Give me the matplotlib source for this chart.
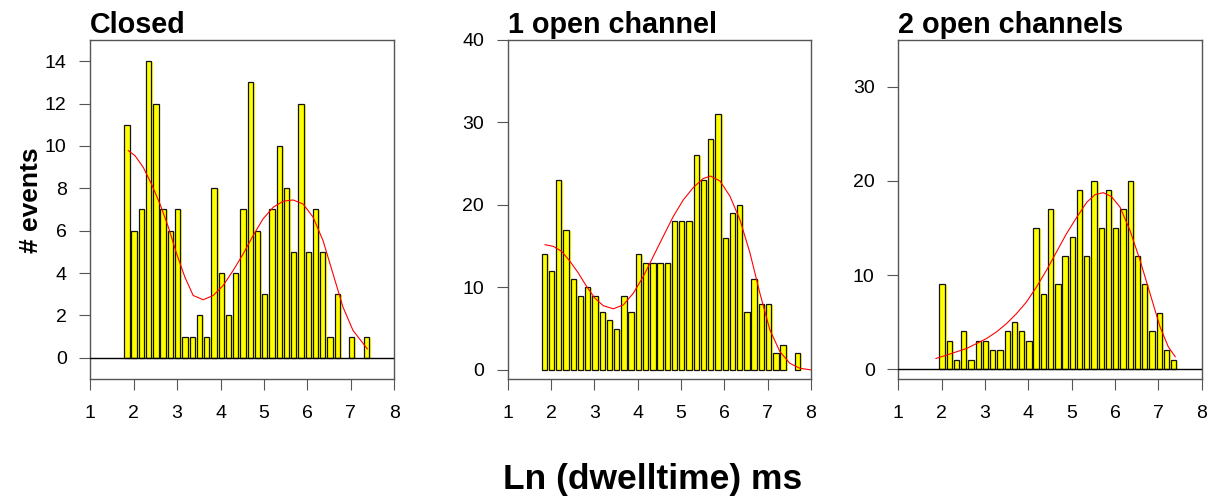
#!/usr/bin/env python3
# -*- coding: utf-8 -*-
"""
Dwell time histograms (ln ms) for closed, 1 open and 2 open channel states,
with the smoothed density overlaid in red.
"""

import matplotlib
matplotlib.use('Agg')
import matplotlib.pyplot as plt
from matplotlib.transforms import offset_copy

plt.rcParams['font.family'] = ['Liberation Sans', 'DejaVu Sans']

# histogram bins in ln(dwelltime)
bin_start = 1.782
bin_width = 0.167

closed_counts = [11, 6, 7, 14, 12, 7, 6, 7, 1, 1, 2, 1, 8, 4, 2, 4, 7, 13, 6, 3,
                 7, 10, 8, 5, 12, 5, 7, 5, 1, 3, 0, 1, 0, 1]
one_open_counts = [14, 12, 23, 17, 11, 9, 10, 9, 7, 6, 5, 9, 7, 14, 13, 13, 13, 13,
                   18, 18, 18, 26, 23, 28, 31, 16, 19, 20, 7, 11, 8, 8, 2, 3, 0, 2]
two_open_counts = [0, 9, 3, 1, 4, 1, 3, 3, 2, 2, 4, 5, 4, 3, 15, 8, 17, 9, 12, 14,
                   19, 12, 20, 15, 19, 15, 17, 20, 12, 9, 4, 6, 2, 1]

# smoothed density curves (scaled to counts)
closed_fit_x = [1.875, 2.03, 2.22, 2.41, 2.605, 2.80, 2.99, 3.18, 3.37, 3.60, 3.83, 4.06,
                4.29, 4.52, 4.75, 4.98, 5.21, 5.44, 5.67, 5.90, 6.13, 6.36, 6.59, 6.82,
                7.05, 7.38]
closed_fit_y = [9.78, 9.54, 8.99, 8.2, 7.26, 6.16, 4.9, 3.8, 2.94, 2.74, 2.94, 3.41,
                4.12, 4.9, 5.77, 6.56, 7.1, 7.39, 7.45, 7.26, 6.64, 5.53, 3.96, 2.39,
                1.29, 0.42]
one_open_fit_x = [1.861, 2.052, 2.245, 2.437, 2.63, 2.82, 3.01, 3.21, 3.44, 3.67, 3.90,
                  4.13, 4.36, 4.59, 4.82, 5.05, 5.28, 5.51, 5.68, 5.90, 6.13, 6.36, 6.59,
                  6.82, 7.05, 7.28, 7.51, 7.74, 8.0]
one_open_fit_y = [15.18, 14.98, 14.37, 13.16, 11.74, 10.12, 8.7, 7.77, 7.41, 7.89, 9.31,
                  11.34, 13.77, 16.2, 18.6, 20.6, 22.1, 23.2, 23.5, 22.9, 21.05, 18.2,
                  14.2, 9.3, 4.86, 2.23, 0.81, 0.2, 0.0]
two_open_fit_x = [1.87, 2.117, 2.35, 2.58, 2.81, 3.04, 3.27, 3.50, 3.73, 3.96, 4.19, 4.42,
                  4.65, 4.88, 5.12, 5.35, 5.54, 5.73, 5.92, 6.12, 6.35, 6.58, 6.81, 7.04,
                  7.23, 7.39]
two_open_fit_y = [1.13, 1.48, 1.84, 2.19, 2.72, 3.25, 3.96, 4.84, 5.9, 7.14, 8.73, 10.5,
                  12.44, 14.38, 16.15, 17.74, 18.55, 18.76, 18.34, 17.2, 14.7, 11.55, 8.02,
                  4.49, 2.37, 1.31]

x_ticks = [1, 2, 3, 4, 5, 6, 7, 8]
closed_y_ticks = [0, 2, 4, 6, 8, 10, 12, 14]
one_open_y_ticks = [0, 10, 20, 30, 40]
two_open_y_ticks = [0, 10, 20, 30]

AXIS_GREY = '#555555'


def main():
    fig = plt.figure(figsize=(12.15, 4.98), dpi=100)

    ax1 = fig.add_axes([0.0743, 0.239, 0.2502, 0.6807])
    ax2 = fig.add_axes([0.4179, 0.239, 0.2496, 0.6807])
    ax3 = fig.add_axes([0.7393, 0.239, 0.2497, 0.6807])

    plot_panel(fig, ax1, closed_counts, closed_fit_x, closed_fit_y, 'Closed',
               closed_y_ticks, (-1, 15), zero_line=True)
    plot_panel(fig, ax2, one_open_counts, one_open_fit_x, one_open_fit_y, '1 open channel',
               one_open_y_ticks, (-1.1, 40), zero_line=False)
    plot_panel(fig, ax3, two_open_counts, two_open_fit_x, two_open_fit_y, '2 open channels',
               two_open_y_ticks, (-1.06, 35), zero_line=True)

    fig.text(0.0255, 0.598, '# events', rotation=90, ha='center', va='center',
             fontsize=19, fontweight='bold')
    fig.text(0.537, 0.038, 'Ln (dwelltime) ms', ha='center', va='center',
             fontsize=25.5, fontweight='bold')

    fig.savefig('out.png', dpi=100)


def plot_panel(fig, ax, counts, fit_x, fit_y, title, y_ticks, y_lim, zero_line):
    """
    Yellow histogram with a slight yellow shadow behind each outlined bar, plus density curve.
    """
    lefts = [bin_start + i * bin_width for i, c in enumerate(counts) if c > 0]
    heights = [c for c in counts if c > 0]

    shadow = offset_copy(ax.transData, fig=fig, x=0, y=-1, units='dots')
    ax.bar(lefts, heights, width=bin_width, align='edge', color='#ffff00',
           edgecolor='none', transform=shadow, zorder=2)
    ax.bar(lefts, heights, width=bin_width * 0.74, align='edge', color='#ffff00',
           edgecolor='#111111', linewidth=0.9, zorder=3)

    if zero_line:
        ax.axhline(0, color='black', lw=1, zorder=4)
    ax.plot(fit_x, fit_y, color='red', lw=0.8, zorder=5)

    ax.set_xlim(1, 8)
    ax.set_ylim(*y_lim)
    ax.set_xticks(x_ticks)
    ax.set_yticks(y_ticks)
    ax.tick_params(axis='both', direction='out', length=8, width=0.8, color=AXIS_GREY,
                   labelsize=14, labelcolor='black')
    ax.tick_params(axis='x', pad=11)
    ax.tick_params(axis='y', pad=9)
    for spine in ax.spines.values():
        spine.set_color(AXIS_GREY)
        spine.set_linewidth(1)

    ax.set_title(title, loc='left', fontsize=20.7, fontweight='bold', pad=5)


if __name__ == '__main__':
    main()
